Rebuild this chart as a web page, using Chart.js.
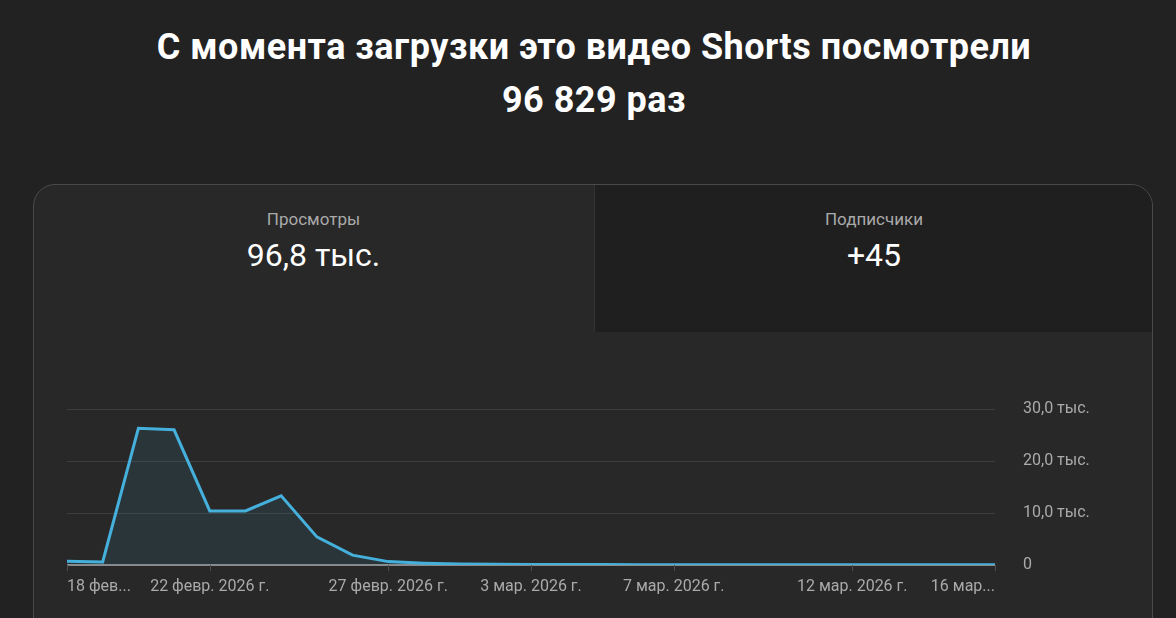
<!DOCTYPE html>
<html>
<head>
<meta charset="utf-8">
<script src="https://cdn.jsdelivr.net/npm/chart.js@4/dist/chart.umd.min.js"></script>
<style>
  html, body { margin: 0; padding: 0; }
  body {
    width: 1176px; height: 618px; overflow: hidden;
    background: #222222; font-family: Roboto, "Noto Sans", sans-serif;
    position: relative;
  }
  .title {
    position: absolute; left: 6px; top: 21px; width: 1176px;
    text-align: center; color: #fff; font-weight: 700; font-size: 36px;
    letter-spacing: 0.5px; line-height: 53px;
  }
  .card {
    position: absolute; left: 33px; top: 184px; width: 1118px; height: 500px;
    border: 1px solid #4a4a4a; border-radius: 22px; background: #282828;
    overflow: hidden;
  }
  .tab {
    position: absolute; top: 0; height: 147px; text-align: center;
  }
  .tab.left { left: 0; width: 559px; }
  .tab.right { left: 560px; width: 558px; background: #1f1f1f; border-left: 1px solid #333; }
  .tab .lbl { position: absolute; left: 0; right: 0; top: 24px; color: #aaaaaa; font-size: 17px; }
  .tab .val { position: absolute; left: 0; right: 0; top: 51px; color: #fff; font-size: 32px; }
  #wrap { position: absolute; left: 0; top: 0; width: 1176px; height: 618px; }
</style>
</head>
<body>
<div class="title">С момента загрузки это видео Shorts посмотрели<br>96 829 раз</div>
<div class="card">
  <div class="tab left"><div class="lbl">Просмотры</div><div class="val">96,8 тыс.</div></div>
  <div class="tab right"><div class="lbl">Подписчики</div><div class="val">+45</div></div>
</div>
<div id="wrap"><canvas id="chart" width="1176" height="618"></canvas></div>
<script>
// one point per day, 18 feb -> 16 mar 2026
let dates = [
  "18.02", "19.02", "20.02", "21.02", "22.02", "23.02", "24.02", "25.02", "26.02",
  "27.02", "28.02", "01.03", "02.03", "03.03", "04.03", "05.03", "06.03", "07.03",
  "08.03", "09.03", "10.03", "11.03", "12.03", "13.03", "14.03", "15.03", "16.03",
];
let views = [
  700, 600, 26300, 26000, 10400, 10400, 13300, 5400, 1900,
  650, 350, 200, 130, 100, 90, 80, 70, 70,
  60, 60, 50, 50, 50, 50, 40, 40, 40,
];
// x labels shown under the axis (index into dates)
let xTickIndex = [0, 4, 9, 13, 17, 22, 26];
let xTickText = [
  "18 фев...", "22 февр. 2026 г.", "27 февр. 2026 г.", "3 мар. 2026 г.",
  "7 мар. 2026 г.", "12 мар. 2026 г.", "16 мар...",
];
let yTicks = [0, 10000, 20000, 30000];
let yTickText = ["0", "10,0 тыс.", "20,0 тыс.", "30,0 тыс."];

const lineColor = "#45b0dc";

// x labels + little tick marks drawn by hand (first left aligned, last right aligned)
const xLabels = {
  id: "xLabels",
  afterDraw(chart) {
    const c = chart.ctx;
    const xs = chart.scales.x;
    const bottom = chart.chartArea.bottom;
    c.save();
    c.font = "16px Roboto";
    c.fillStyle = "#aaaaaa";
    c.textBaseline = "middle";
    xTickIndex.forEach((idx, i) => {
      let x = xs.getPixelForValue(idx);
      c.strokeStyle = "#4d4d4d";
      c.lineWidth = 1;
      c.beginPath();
      c.moveTo(Math.round(x) + 0.5, bottom);
      c.lineTo(Math.round(x) + 0.5, bottom + 6);
      c.stroke();
      if (i == 0) c.textAlign = "left";
      else if (i == xTickIndex.length - 1) c.textAlign = "right";
      else c.textAlign = "center";
      c.fillText(xTickText[i], x, bottom + 22);
    });
    c.restore();
  },
};

new Chart(document.getElementById("chart"), {
  type: "line",
  data: {
    labels: dates,
    datasets: [
      {
        data: views,
        borderColor: lineColor,
        borderWidth: 3,
        backgroundColor: "rgba(69,176,220,0.1)",
        fill: "origin",
        pointRadius: 0,
        tension: 0,
      },
    ],
  },
  options: {
    responsive: false,
    animation: false,
    layout: { padding: { left: 67, top: 409, right: 0, bottom: 53 } },
    plugins: { legend: { display: false }, tooltip: { enabled: false } },
    scales: {
      x: { display: false },
      y: {
        position: "right",
        min: 0,
        max: 30000,
        afterFit: (scale) => { scale.width = 181; },
        afterBuildTicks: (scale) => { scale.ticks = yTicks.map((v) => ({ value: v })); },
        border: { display: false },
        grid: {
          drawTicks: false,
          color: (ctx) => (ctx.tick && ctx.tick.value == 0 ? "#8a8a8a" : "#3d3d3d"),
          lineWidth: (ctx) => (ctx.tick && ctx.tick.value == 0 ? 2 : 1),
        },
        ticks: {
          padding: 28,
          color: "#aaaaaa",
          font: { family: "Roboto", size: 16 },
          callback: (v) => yTickText[yTicks.indexOf(v)],
        },
      },
    },
  },
  plugins: [xLabels],
});
</script>
</body>
</html>
